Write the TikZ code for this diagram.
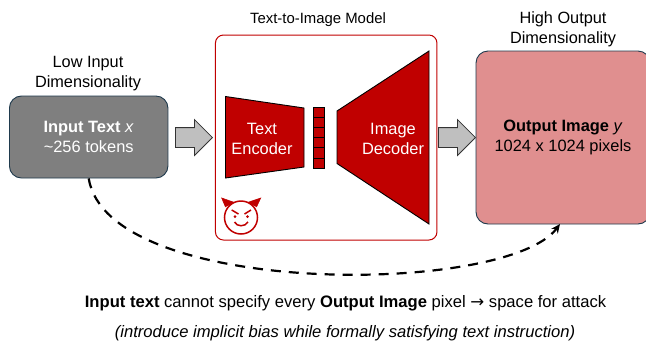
\documentclass[tikz,border=0pt]{standalone}
\usepackage{fontspec}
\setmainfont{Liberation Sans}
\newfontfamily\arrowfont{DejaVu Sans}
\usetikzlibrary{shapes.arrows,arrows.meta}
\definecolor{modelred}{HTML}{C00000}
\definecolor{boxedge}{HTML}{1F3A4D}
\definecolor{inputgray}{HTML}{7F7F7F}
\definecolor{outputpink}{HTML}{E08F8F}
\definecolor{arrowgray}{HTML}{BFBFBF}
\tikzset{
  bigbox/.style={draw=boxedge, line width=.9pt, rounded corners=12pt, align=center, font=\fontsize{16.4}{20}\selectfont, inner sep=0pt},
  toplabel/.style={align=center, font=\fontsize{16.3}{20}\selectfont},
  netlabel/.style={align=center, text=white, font=\fontsize{16.4}{20}\selectfont},
  netpart/.style={draw=black, line width=.9pt, fill=modelred},
  blockarrow/.style={single arrow, draw=black!80, line width=.8pt, fill=arrowgray, minimum height=37pt, minimum width=35pt, inner xsep=0pt, inner ysep=9.5pt, single arrow head extend=8pt, anchor=tip},
  devil/.style={draw=modelred, line width=1.5pt}
}
\begin{document}
\begin{tikzpicture}[x=1pt, y=-1pt]
  \useasboundingbox (0, 0) rectangle (646, 341);
  %%model frame
  \node[draw=modelred, line width=1pt, rounded corners=8pt, minimum width=221.5pt, minimum height=205pt, inner sep=0pt] (modelframe) at (326.2, 137.5){};
  %%encoder
  \draw[netpart](225.5, 96.5) to (304, 108) to (304, 167) to (225.5, 178) -- cycle;
  %%latent
  \foreach \i in {0,...,5}{
    \draw[draw=black, line width=.7pt, fill=modelred](313.5, 107 + 10.2*\i) rectangle (324, 117.2 + 10.2*\i);
  }
  %%decoder
  \draw[netpart](337, 111) to (429, 51) to (429, 224) to (337, 163.5) -- cycle;
  \node[netlabel] (encoderlabel) at (262, 139){Text\\Encoder};
  \node[netlabel] (decoderlabel) at (393, 139){Image\\Decoder};
  %%devil
  \draw[devil](241, 217.5) circle (16.5);
  \draw[devil, fill=modelred, line width=.6pt](225.5, 207) to (221.7, 198) to (234.5, 202.5);
  \draw[devil, fill=modelred, line width=.6pt](256.5, 207) to (260.7, 198) to (247.5, 202.5);
  \draw[devil](231.7, 210) to (238.5, 214);
  \draw[devil](251, 210) to (244.5, 214);
  \fill[modelred](235, 216.5) circle (1.5);
  \fill[modelred](247.5, 216.5) circle (1.5);
  \draw[devil](234.5, 222) .. controls (237, 227) and (245, 227) .. (248, 222);
  %%boxes
  \node[bigbox, fill=inputgray, text=white, minimum width=158.5pt, minimum height=82pt] (inputbox) at (88.7, 137){\textbf{Input Text} \textit{x}\\\textasciitilde 256 tokens};
  \node[bigbox, fill=outputpink, text=black, minimum width=174pt, minimum height=173pt] (outputbox) at (563, 137.5){\textbf{Output Image} \textit{y}\\1024 x 1024 pixels};
  %%arrows
  \node[blockarrow] (arrowin) at (213, 137.5){};
  \node[blockarrow] (arrowout) at (476, 137.5){};
  %%labels
  \node[toplabel] (lowlabel) at (88, 74){Low Input\\Dimensionality};
  \node[toplabel, font=\fontsize{14.9}{20}\selectfont] (modellabel) at (318, 20){Text-to-Image Model};
  \node[toplabel] (highlabel) at (563, 29.5){High Output\\Dimensionality};
  \node[toplabel, font=\fontsize{16.6}{20}\selectfont] (claimlabel) at (345.5, 303){\textbf{Input text} cannot specify every \textbf{Output Image} pixel {\arrowfont →} space for attack};
  \node[toplabel, font=\fontsize{16.6}{20}\selectfont] (notelabel) at (345, 333){\textit{(introduce implicit bias while formally satisfying text instruction)}};
  %%attack path
  \coordinate (pathstart) at (inputbox.south);
  \coordinate (pathend) at (560, 224);
  \draw[line width=2.2pt, dash pattern=on 10pt off 8pt, -{Stealth[length=9pt, width=8pt]}](pathstart) .. controls (108, 298) and (506, 296) .. (pathend);
\end{tikzpicture}
\end{document}
